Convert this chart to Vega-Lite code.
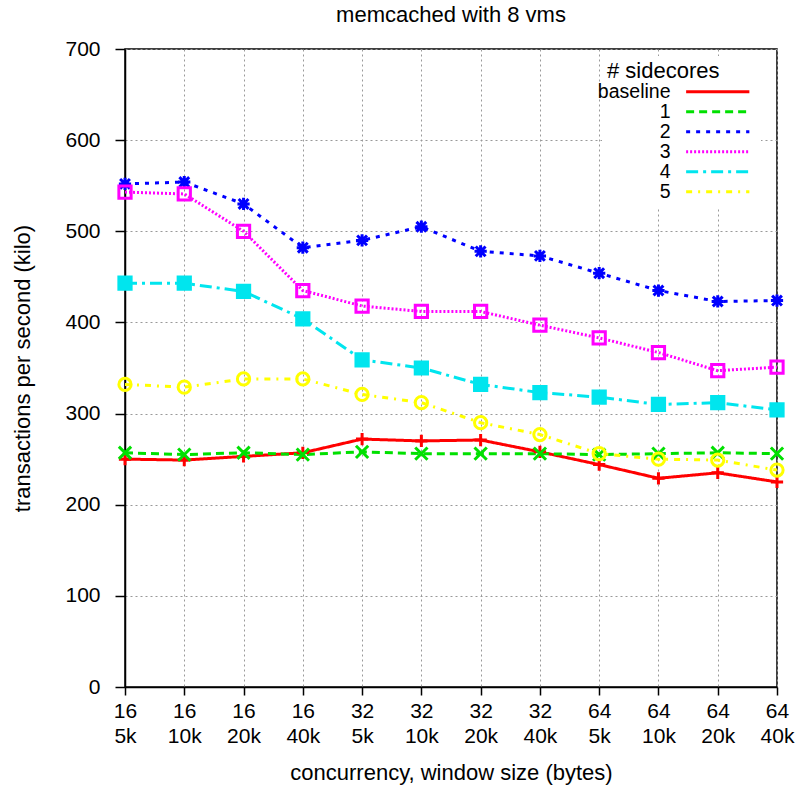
{
  "$schema": "https://vega.github.io/schema/vega-lite/v6.json",
  "autosize": {"type": "none"},
  "width": 652,
  "height": 638,
  "padding": {"left": 125, "top": 49, "right": 21, "bottom": 102},
  "background": "white",
  "title": {"text": "memcached with 8 vms", "fontSize": 22, "font": "Liberation Sans", "fontWeight": "normal", "offset": 11, "color": "black"},
  "config": {
    "font": "Liberation Sans",
    "view": {"stroke": "black", "strokeWidth": 1.5},
    "axis": {"labelFont": "Liberation Sans", "titleFont": "Liberation Sans", "labelFontSize": 21, "titleFontSize": 22, "titleFontWeight": "normal", "labelColor": "black", "titleColor": "black", "domainColor": "black", "domainWidth": 1.5, "tickColor": "black", "tickWidth": 1.5, "gridColor": "#999999", "gridDash": [2, 3], "gridWidth": 1, "gridOpacity": 1},
    "legend": {"labelFont": "Liberation Sans", "titleFont": "Liberation Sans"}
  },
  "data": {"values": [
    {"cw": "16|5k", "series": "baseline", "tps": 250},
    {"cw": "16|10k", "series": "baseline", "tps": 249},
    {"cw": "16|20k", "series": "baseline", "tps": 253},
    {"cw": "16|40k", "series": "baseline", "tps": 257},
    {"cw": "32|5k", "series": "baseline", "tps": 272},
    {"cw": "32|10k", "series": "baseline", "tps": 270},
    {"cw": "32|20k", "series": "baseline", "tps": 271},
    {"cw": "32|40k", "series": "baseline", "tps": 258},
    {"cw": "64|5k", "series": "baseline", "tps": 244},
    {"cw": "64|10k", "series": "baseline", "tps": 229},
    {"cw": "64|20k", "series": "baseline", "tps": 235},
    {"cw": "64|40k", "series": "baseline", "tps": 225},
    {"cw": "16|5k", "series": "1", "tps": 257},
    {"cw": "16|10k", "series": "1", "tps": 255},
    {"cw": "16|20k", "series": "1", "tps": 257},
    {"cw": "16|40k", "series": "1", "tps": 255},
    {"cw": "32|5k", "series": "1", "tps": 258},
    {"cw": "32|10k", "series": "1", "tps": 256},
    {"cw": "32|20k", "series": "1", "tps": 256},
    {"cw": "32|40k", "series": "1", "tps": 256},
    {"cw": "64|5k", "series": "1", "tps": 255},
    {"cw": "64|10k", "series": "1", "tps": 256},
    {"cw": "64|20k", "series": "1", "tps": 257},
    {"cw": "64|40k", "series": "1", "tps": 256},
    {"cw": "16|5k", "series": "2", "tps": 552},
    {"cw": "16|10k", "series": "2", "tps": 554},
    {"cw": "16|20k", "series": "2", "tps": 530},
    {"cw": "16|40k", "series": "2", "tps": 482},
    {"cw": "32|5k", "series": "2", "tps": 490},
    {"cw": "32|10k", "series": "2", "tps": 505},
    {"cw": "32|20k", "series": "2", "tps": 478},
    {"cw": "32|40k", "series": "2", "tps": 473},
    {"cw": "64|5k", "series": "2", "tps": 454},
    {"cw": "64|10k", "series": "2", "tps": 435},
    {"cw": "64|20k", "series": "2", "tps": 423},
    {"cw": "64|40k", "series": "2", "tps": 424},
    {"cw": "16|5k", "series": "3", "tps": 543},
    {"cw": "16|10k", "series": "3", "tps": 541},
    {"cw": "16|20k", "series": "3", "tps": 500},
    {"cw": "16|40k", "series": "3", "tps": 435},
    {"cw": "32|5k", "series": "3", "tps": 418},
    {"cw": "32|10k", "series": "3", "tps": 412},
    {"cw": "32|20k", "series": "3", "tps": 412},
    {"cw": "32|40k", "series": "3", "tps": 397},
    {"cw": "64|5k", "series": "3", "tps": 383},
    {"cw": "64|10k", "series": "3", "tps": 367},
    {"cw": "64|20k", "series": "3", "tps": 347},
    {"cw": "64|40k", "series": "3", "tps": 351},
    {"cw": "16|5k", "series": "4", "tps": 443},
    {"cw": "16|10k", "series": "4", "tps": 443},
    {"cw": "16|20k", "series": "4", "tps": 434},
    {"cw": "16|40k", "series": "4", "tps": 404},
    {"cw": "32|5k", "series": "4", "tps": 359},
    {"cw": "32|10k", "series": "4", "tps": 350},
    {"cw": "32|20k", "series": "4", "tps": 332},
    {"cw": "32|40k", "series": "4", "tps": 323},
    {"cw": "64|5k", "series": "4", "tps": 318},
    {"cw": "64|10k", "series": "4", "tps": 310},
    {"cw": "64|20k", "series": "4", "tps": 312},
    {"cw": "64|40k", "series": "4", "tps": 304},
    {"cw": "16|5k", "series": "5", "tps": 332},
    {"cw": "16|10k", "series": "5", "tps": 329},
    {"cw": "16|20k", "series": "5", "tps": 338},
    {"cw": "16|40k", "series": "5", "tps": 338},
    {"cw": "32|5k", "series": "5", "tps": 321},
    {"cw": "32|10k", "series": "5", "tps": 312},
    {"cw": "32|20k", "series": "5", "tps": 290},
    {"cw": "32|40k", "series": "5", "tps": 277},
    {"cw": "64|5k", "series": "5", "tps": 256},
    {"cw": "64|10k", "series": "5", "tps": 250},
    {"cw": "64|20k", "series": "5", "tps": 249},
    {"cw": "64|40k", "series": "5", "tps": 238}
  ]},
  "layer": [
    {
      "mark": {"type": "line", "strokeWidth": 3},
      "encoding": {
        "x": {"field": "cw", "type": "ordinal", "sort": null, "scale": {"type": "point", "padding": 0},
              "axis": {"title": "concurrency, window size (bytes)", "labelExpr": "split(datum.label, '|')", "labelAngle": 0, "labelBaseline": "top", "labelPadding": 5, "tickSize": 8, "titlePadding": 16, "grid": true, "labelLineHeight": 25}},
        "y": {"field": "tps", "type": "quantitative", "scale": {"domain": [0, 700], "nice": false},
              "axis": {"title": "transactions per second (kilo)", "values": [0, 100, 200, 300, 400, 500, 600, 700], "tickSize": 10, "labelPadding": 15, "titlePadding": 30, "grid": true}},
        "color": {"field": "series", "type": "nominal",
                  "scale": {"domain": ["baseline", "1", "2", "3", "4", "5"], "range": ["#ff0000", "#00e000", "#0000ff", "#ff00ff", "#00e5ee", "#ffff00"]},
                  "legend": {"title": "# sidecores", "orient": "none", "legendX": 477, "legendY": 7, "padding": 5, "fillColor": "white", "symbolType": "M-10,0H10", "symbolSize": 40, "symbolStrokeWidth": 3, "symbolOffset": 101, "labelAlign": "right", "labelOffset": -57, "labelFontSize": 19.5, "titleFontSize": 22, "titleFontWeight": "normal", "titleColor": "black", "labelColor": "black", "rowPadding": -1.4, "titleAnchor": "start", "titleBaseline": "top", "titlePadding": -1}},
        "strokeDash": {"field": "series", "type": "nominal",
                  "scale": {"domain": ["baseline", "1", "2", "3", "4", "5"], "range": [[1, 0], [8, 5], [4, 6], [2, 2], [12, 5, 3, 5], [6, 6, 2, 6]]},
                  "legend": {"title": "# sidecores"}}
      }
    },
    {
      "mark": {"type": "point", "filled": false, "strokeWidth": 3, "size": 150, "opacity": 1},
      "encoding": {
        "x": {"field": "cw", "type": "ordinal", "sort": null},
        "y": {"field": "tps", "type": "quantitative"},
        "stroke": {"field": "series", "type": "nominal", "sort": null,
                   "scale": {"range": ["#ff0000", "#00e000", "#0000ff", "#ff00ff", "#00e5ee", "#ffff00"]},
                   "legend": null},
        "shape": {"field": "series", "type": "nominal", "sort": null,
                  "scale": {"range": ["M-1,0H1M0,-1V1", "M-1,-1L1,1M1,-1L-1,1", "M-1,0H1M0,-1V1M-0.8,-0.8L0.8,0.8M0.8,-0.8L-0.8,0.8", "square", "square", "circle"]},
                  "legend": null},
        "fill": {"field": "series", "type": "nominal", "sort": null,
                 "scale": {"range": ["transparent", "transparent", "#0000ff", "transparent", "#00e5ee", "transparent"]},
                 "legend": null}
      }
    }
  ]
}
